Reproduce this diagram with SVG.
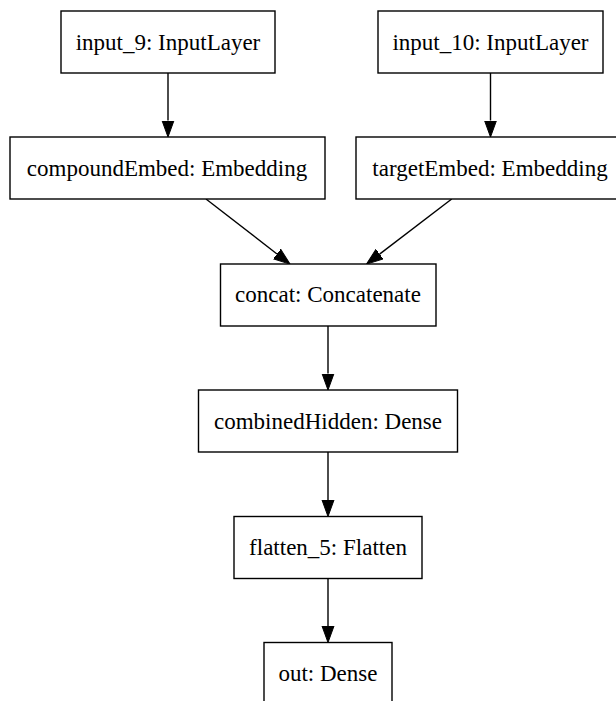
<svg xmlns="http://www.w3.org/2000/svg" width="616" height="701" viewBox="0 0 616 701">
<style>
.box{fill:#fff;stroke:#000;stroke-width:1.4}
.lbl{font-family:"Liberation Serif","Times New Roman",serif;font-size:23px;fill:#000;text-anchor:middle}
.edge{stroke:#000;stroke-width:1.4;fill:none}
</style>
<defs>
<marker id="arr" markerUnits="userSpaceOnUse" markerWidth="18" markerHeight="14" refX="0" refY="6.5" orient="auto">
<path d="M0,0.5 L16.5,6.5 L0,12.5 z" fill="#000" stroke="#000" stroke-width="1"/>
</marker>
</defs>
<rect width="616" height="701" fill="#fff"/>
<g id="edges">
<line class="edge" x1="168" y1="73" x2="168" y2="120.5" marker-end="url(#arr)"/>
<line class="edge" x1="490.5" y1="73" x2="490.5" y2="120.5" marker-end="url(#arr)"/>
<line class="edge" x1="206" y1="199" x2="277" y2="254" marker-end="url(#arr)"/>
<line class="edge" x1="451.7" y1="199" x2="379.6" y2="254.1" marker-end="url(#arr)"/>
<line class="edge" x1="328" y1="326" x2="328" y2="373.5" marker-end="url(#arr)"/>
<line class="edge" x1="328" y1="452" x2="328" y2="500" marker-end="url(#arr)"/>
<line class="edge" x1="328" y1="578.5" x2="328" y2="626" marker-end="url(#arr)"/>
</g>
<g id="input_9"><rect class="box" x="61" y="11" width="214" height="62"/><text class="lbl" x="168" y="49.5">input_9: InputLayer</text></g>
<g id="input_10"><rect class="box" x="378" y="11" width="225" height="62"/><text class="lbl" x="490.5" y="49.5">input_10: InputLayer</text></g>
<g id="compoundEmbed"><rect class="box" x="10" y="137" width="315" height="62"/><text class="lbl" x="167" y="175.5">compoundEmbed: Embedding</text></g>
<g id="targetEmbed"><rect class="box" x="356" y="137" width="268" height="62"/><text class="lbl" x="490" y="175.5">targetEmbed: Embedding</text></g>
<g id="concat"><rect class="box" x="220.5" y="264" width="215.5" height="62"/><text class="lbl" x="328" y="302">concat: Concatenate</text></g>
<g id="combinedHidden"><rect class="box" x="198.5" y="390" width="259" height="62"/><text class="lbl" x="328" y="428.5">combinedHidden: Dense</text></g>
<g id="flatten_5"><rect class="box" x="234" y="516.5" width="188" height="62"/><text class="lbl" x="328" y="555">flatten_5: Flatten</text></g>
<g id="out"><rect class="box" x="264" y="642.5" width="128" height="62"/><text class="lbl" x="328" y="681">out: Dense</text></g>
</svg>
